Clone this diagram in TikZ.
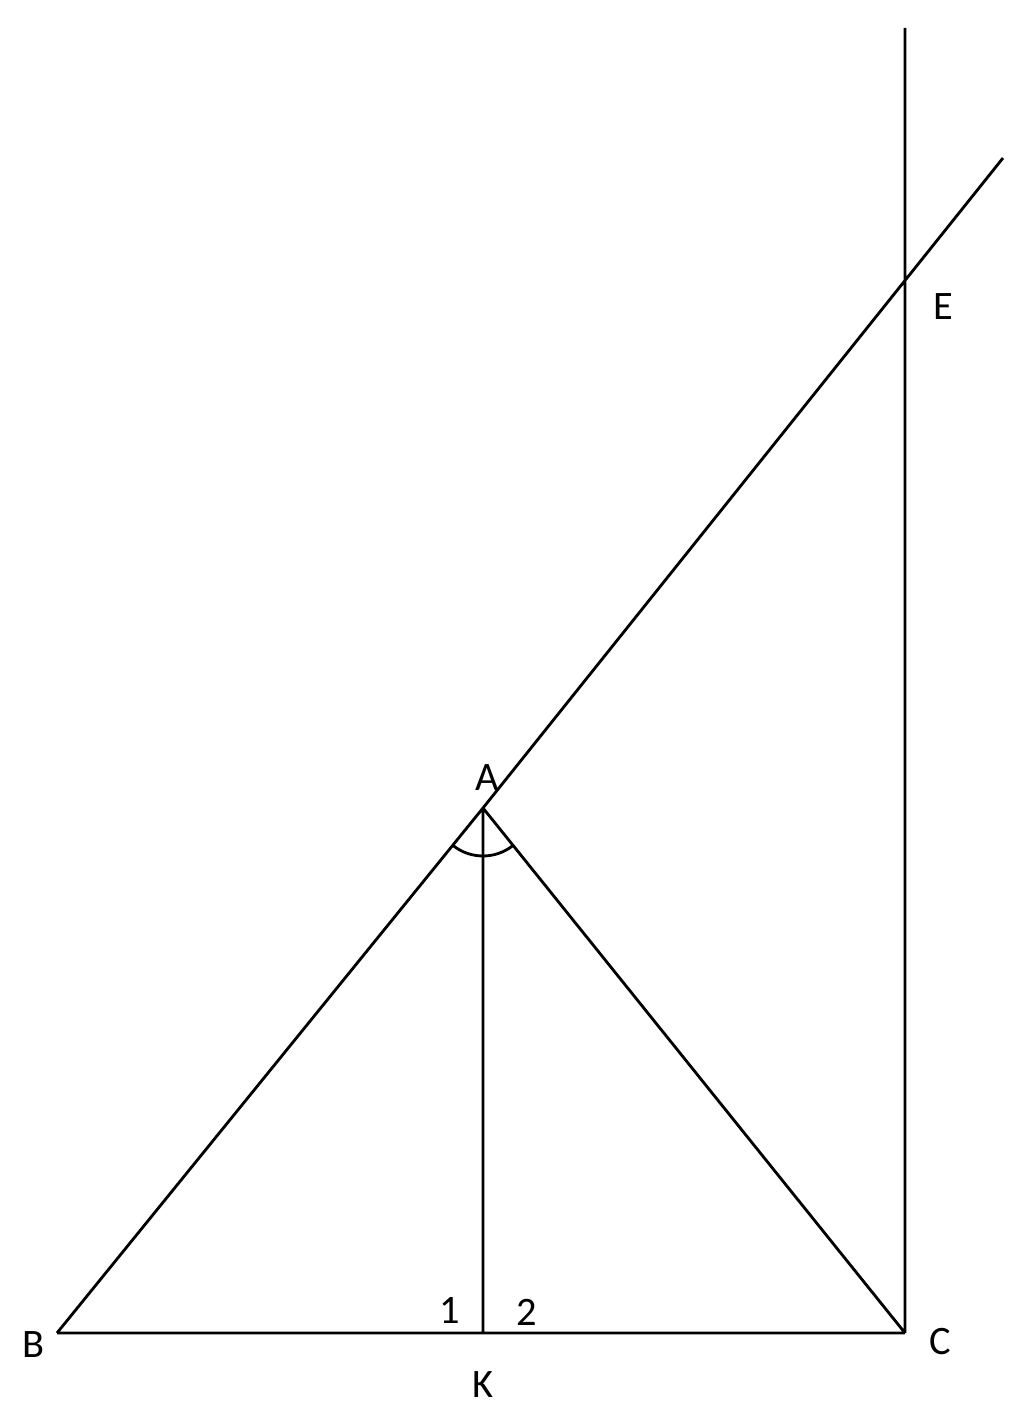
\documentclass[tikz,border=0pt]{standalone}
\usepackage{fontspec}
\setmainfont{Carlito}
\usetikzlibrary{calc}

\begin{document}
\begin{tikzpicture}[line width=0.8pt, every node/.style={font=\fontsize{11.5}{13}\selectfont}]
                        \useasboundingbox (0,0) rectangle (10.24,14.05);

                        \coordinate (B) at (0.57,0.72);
                        \coordinate (K) at (4.83,0.72);
                        \coordinate (C) at (9.05,0.72);
                        \coordinate (A) at (4.83,5.97);
                        \coordinate (E) at (9.05,11.25);
                        \coordinate (top) at (9.05,13.77);
                        \coordinate (end) at (10.03,12.47);

                        \node (lA) at (4.87,6.27){A};
                        \node (lE) at (9.43,10.98){E};
                        \node (lB) at (0.33,0.60){B};
                        \node (lC) at (9.40,0.63){C};
                        \node (lK) at (4.83,0.20){K};
                        \node (l1) at (4.50,0.95){1};
                        \node (l2) at (5.27,0.93){2};

                        \path[draw]
                            (B) -- (C)
                            (B) -- (A)
                            (A) -- (end)
                            (A) -- (K)
                            (A) -- (C)
                            (C) -- (top)
                        ;

                        \draw ($(A)+(230.9:0.48)$) arc[start angle=230.9, end angle=308.8, radius=0.48];

                    \end{tikzpicture}
\end{document}
